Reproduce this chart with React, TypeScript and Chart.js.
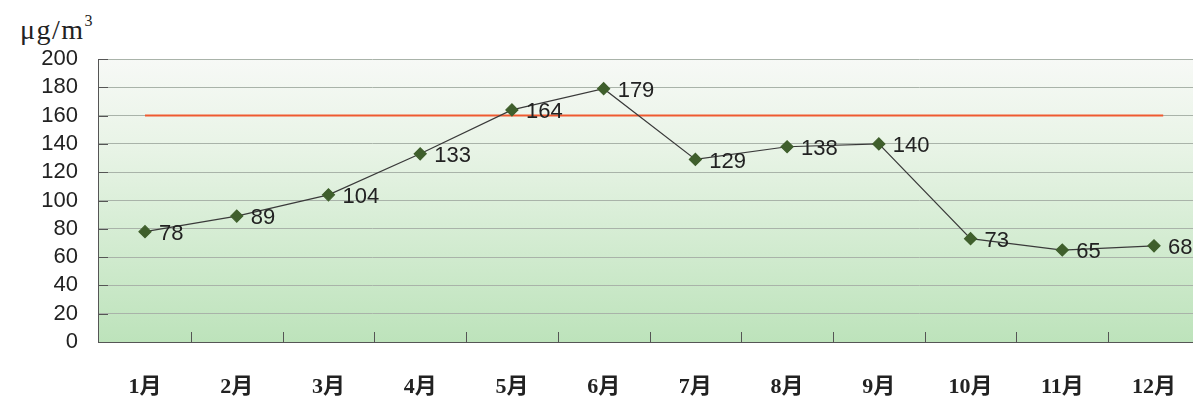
import React, { useEffect, useRef } from "react";
import { Chart, registerables } from "chart.js";

Chart.register(...registerables);

const months = ["1月", "2月", "3月", "4月", "5月", "6月", "7月", "8月", "9月", "10月", "11月", "12月"];
const values = [78, 89, 104, 133, 164, 179, 129, 138, 140, 73, 65, 68];
const limitValue = 160;
const limitFrom = 1;
const limitTo = 12.1;
const yTicks = [0, 20, 40, 60, 80, 100, 120, 140, 160, 180, 200];

const bgPlugin = {
  id: "bgPlugin",
  beforeDraw(chart: any) {
    const { ctx, chartArea } = chart;
    const g = ctx.createLinearGradient(0, chartArea.top, 0, chartArea.bottom);
    g.addColorStop(0, "#f7f9f6");
    g.addColorStop(0.3, "#e9f4e7");
    g.addColorStop(1, "#bde3bb");
    ctx.save();
    ctx.fillStyle = g;
    ctx.fillRect(chartArea.left, chartArea.top, chartArea.right - chartArea.left, chartArea.bottom - chartArea.top);
    ctx.restore();
  },
  afterDraw(chart: any) {
    const { ctx, chartArea, scales } = chart;
    ctx.save();
    ctx.strokeStyle = "#555";
    ctx.lineWidth = 1;
    ctx.beginPath();
    for (let i = 1; i <= months.length; i++) {
      const x = Math.round(scales.x.getPixelForValue(i + 0.5)) + 0.5;
      if (x > chartArea.right) continue;
      ctx.moveTo(x, chartArea.bottom);
      ctx.lineTo(x, chartArea.bottom - 10);
    }
    yTicks.forEach((v) => {
      const y = Math.round(scales.y.getPixelForValue(v)) + 0.5;
      ctx.moveTo(chartArea.left, y);
      ctx.lineTo(chartArea.left + 10, y);
    });
    ctx.stroke();
    ctx.restore();
  },
  afterDatasetsDraw(chart: any) {
    const { ctx } = chart;
    const meta = chart.getDatasetMeta(0);
    ctx.save();
    ctx.font = "22px 'Liberation Sans', Arial, sans-serif";
    ctx.fillStyle = "#222";
    ctx.textAlign = "left";
    ctx.textBaseline = "middle";
    meta.data.forEach((pt: any, i: number) => {
      ctx.fillText(String(values[i]), pt.x + 14, pt.y + 2);
    });
    ctx.restore();
  },
};

export default function App() {
  const ref = useRef<HTMLCanvasElement>(null);
  useEffect(() => {
    if (!ref.current) return;
    const chart = new Chart(ref.current, {
      type: "line",
      data: {
        datasets: [
          {
            data: values.map((v, i) => ({ x: i + 1, y: v })),
            borderColor: "#3a3a3a",
            borderWidth: 1.2,
            pointStyle: "rectRot",
            pointRadius: 6,
            pointBackgroundColor: "#3f5f2c",
            pointBorderColor: "#3f5f2c",
            tension: 0,
          },
          {
            data: [
              { x: limitFrom, y: limitValue },
              { x: limitTo, y: limitValue },
            ],
            borderColor: "#ef5a30",
            borderWidth: 2,
            pointRadius: 0,
          },
        ],
      },
      options: {
        animation: false,
        responsive: true,
        maintainAspectRatio: false,
        layout: { autoPadding: false, padding: { top: 59, right: 0, left: 8, bottom: 0 } },
        plugins: { legend: { display: false }, tooltip: { enabled: false } },
        scales: {
          x: {
            type: "linear",
            min: 0.4876,
            max: 12.425,
            afterBuildTicks(scale: any) {
              scale.ticks = months.map((_, i) => ({ value: i + 1 }));
            },
            afterFit(scale: any) {
              scale.height = 60;
              scale.paddingLeft = 0;
              scale.paddingRight = 0;
            },
            grid: { display: false, drawTicks: false },
            border: { display: true, color: "#555", width: 1 },
            ticks: {
              autoSkip: false,
              maxRotation: 0,
              padding: 32,
              color: "#222",
              font: { family: "'Liberation Serif', 'Noto Sans CJK SC', serif", size: 22, weight: "bold" },
              callback: (v: any) => months[Number(v) - 1] ?? "",
            },
          },
          y: {
            min: 0,
            max: 200,
            afterBuildTicks(scale: any) {
              scale.ticks = yTicks.map((v) => ({ value: v }));
            },
            afterFit(scale: any) {
              scale.width = 90;
              scale.paddingTop = 0;
              scale.paddingBottom = 0;
            },
            grid: { color: "#a9b3a9", lineWidth: 1, drawTicks: false },
            border: { display: true, color: "#555", width: 1 },
            ticks: {
              autoSkip: false,
              padding: 20,
              color: "#222",
              font: { family: "'Liberation Sans', Arial, sans-serif", size: 22 },
            },
          },
        },
      },
      plugins: [bgPlugin],
    });
    return () => chart.destroy();
  }, []);
  return (
    <div style={{ position: "absolute", left: 0, top: 0, width: 1193, height: 402, background: "#fff" }}>
      <div
        style={{
          position: "absolute",
          left: 20,
          top: 14,
          fontFamily: "'Liberation Serif', 'Times New Roman', serif",
          fontSize: 28,
          color: "#222",
          letterSpacing: 1.5,
        }}
      >
        μg/m<sup style={{ fontSize: 16, verticalAlign: "top", position: "relative", top: -2 }}>3</sup>
      </div>
      <canvas ref={ref} style={{ position: "absolute", left: 0, top: 0, width: 1193, height: 402 }} />
    </div>
  );
}
